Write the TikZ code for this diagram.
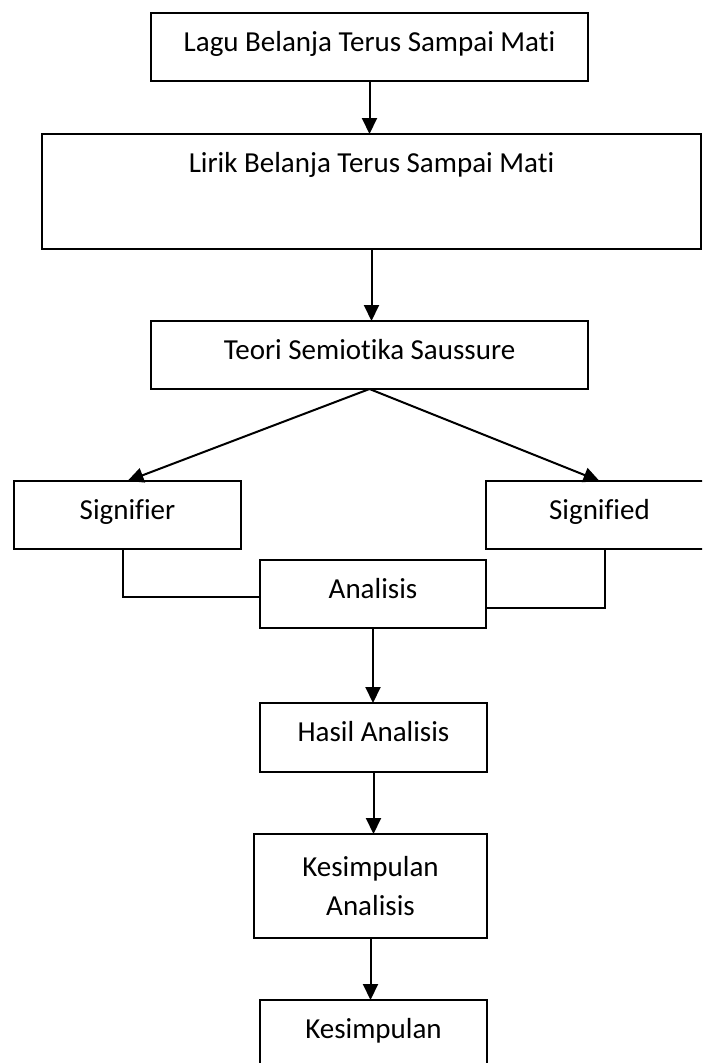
\documentclass[tikz,border=0pt]{standalone}
\usepackage{fontspec}
\setmainfont{Carlito}[Ligatures=NoCommon]
\usepackage{tikz}
\usetikzlibrary{arrows.meta}

\begin{document}
\begin{tikzpicture}[x=1pt, y=-1pt,
  every node/.style={draw, line width=1.3pt, outer sep=0pt, inner sep=0pt, font=\fontsize{29}{39}\selectfont},
  box/.style={anchor=north, text height=38pt, text depth=30pt, minimum width=227pt},
  flow/.style={line width=2pt, -{Triangle[length=16pt, width=15pt]}},
  link/.style={line width=1.5pt}]
\fill[white] (0,0) rectangle (702,1063);
\clip (0,0) rectangle (702,1063);
\node[box, minimum width=437pt] (lagu) at (369.5,13) {Lagu Belanja Terus Sampai Mati};
\node[box, minimum width=659pt, text depth=77pt] (lirik) at (371.5,134) {Lirik Belanja Terus Sampai Mati};
\node[box, minimum width=437pt] (teori) at (369.5,321) {Teori Semiotika Saussure};
\node[box] (sfr) at (127.5,481) {Signifier};
\node[box] (sfd) at (599.5,481) {Signified};
\node[box, minimum width=226pt] (ana) at (373,560) {Analisis};
\node[box, text depth=31pt] (hasil) at (373.5,703) {Hasil Analisis};
\node[align=center, minimum width=233pt, minimum height=104pt] (kesan) at (370.5,886) {Kesimpulan\\Analisis};
\node[box, text depth=45pt] (kes) at (373.5,1000) {Kesimpulan};

\draw[flow] (lagu.south) -- (lagu.south |- lirik.north);
\draw[flow] (lirik.south) -- (lirik.south |- teori.north);
\draw[flow] (teori.south) -- (sfr.north);
\draw[flow] (teori.south) -- (sfd.north);
\draw[link] ([xshift=-4.5pt]sfr.south) |- ([yshift=-3pt]ana.west);
\draw[link] ([xshift=5.5pt]sfd.south) |- ([yshift=-14pt]ana.east);
\draw[flow] (ana.south) -- (ana.south |- hasil.north);
\draw[flow] (hasil.south) -- (hasil.south |- kesan.north);
\draw[flow] (kesan.south) -- (kesan.south |- kes.north);
\end{tikzpicture}
\end{document}
